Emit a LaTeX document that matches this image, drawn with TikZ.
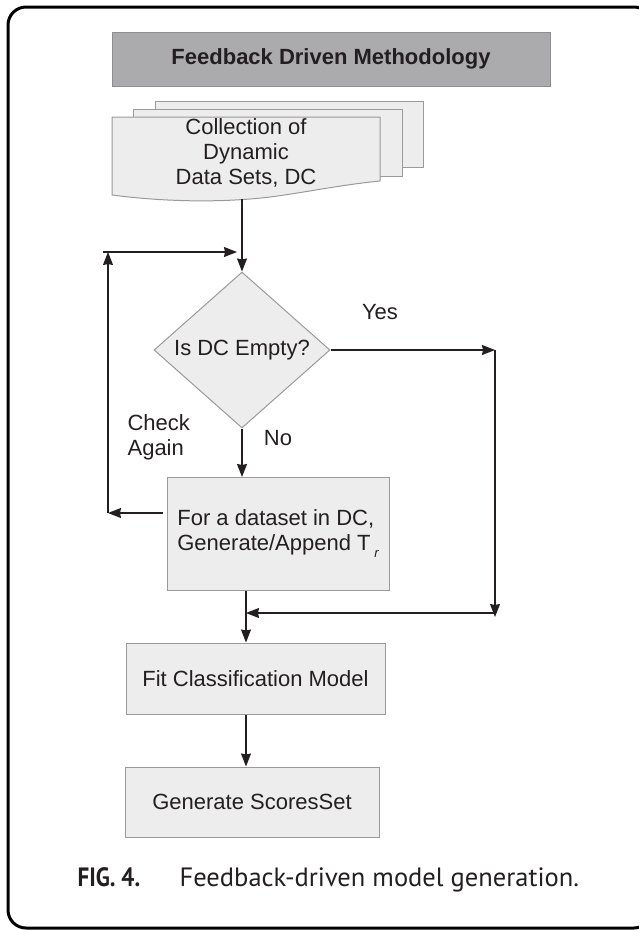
\documentclass[tikz,border=0pt]{standalone}
\usepackage{fontspec}
\setmainfont{Liberation Sans}
\newfontfamily\capfont{PT Sans}
\usetikzlibrary{arrows.meta,shapes.geometric}
\definecolor{ink}{HTML}{231F20}
\definecolor{boxfill}{HTML}{EDEDED}
\definecolor{boxline}{HTML}{9A9A9A}
\definecolor{headfill}{HTML}{ABABAD}
\definecolor{headline}{HTML}{8E8E8E}

\begin{document}
\begin{tikzpicture}[->,>={Stealth[length=13pt,width=10pt,inset=1pt]},x=1pt,y=-1pt,
                line width=1.2pt,draw=ink,text=ink,font=\fontsize{22}{25}\selectfont,
                box/.style={-,shape=rectangle,draw=boxline,fill=boxfill,line width=1pt,inner sep=0pt},
                sheet/.style={-,draw=boxline,fill=boxfill,line width=1pt},
                captext/.style={font=\capfont\fontsize{26.5}{30}\selectfont,anchor=base west,inner sep=0pt}]
                \useasboundingbox (0,0) rectangle (638,930);
                \draw[-,black,line width=3pt,rounded corners=18pt] (8,7) rectangle (652,928);
                \node[box,fill=headfill,draw=headline,minimum width=438,minimum height=54,font=\fontsize{22}{25}\selectfont\bfseries](head)at(331, 59){Feedback Driven Methodology};
                \draw[sheet] (155,101) rectangle (423,167);
                \draw[sheet] (133,109) rectangle (402,176);
                \draw[sheet] (112,117) -- (380,117) -- (380,181) .. controls (330,186) and (290,196) .. (250,199) .. controls (200,203) and (150,200) .. (112,195) -- cycle;
                \node[align=center,inner sep=0pt](dc)at(246, 153){Collection of\\Dynamic\\Data Sets, DC};
                \node[shape=diamond,draw=boxline,fill=boxfill,line width=1pt,inner sep=0pt,minimum width=176,minimum height=156](empty)at(242, 350){Is DC Empty?};
                \node[box,minimum width=222,minimum height=113,align=left](gen)at(278, 534){For a dataset in DC,\\Generate/Append T\,\raisebox{-7pt}{\fontsize{13}{13}\selectfont\itshape r}};
                \node[box,minimum width=259,minimum height=71](fit)at(255.5, 678.5){Fit Classification Model};
                \node[box,minimum width=254,minimum height=70](score)at(252, 802){Generate ScoresSet};
                \node[](yeslabel)at(380, 312){Yes};
                \node[](nolabel)at(278, 438){No};
                \node[align=left,anchor=west,inner sep=0pt](againlabel)at(127, 437){Check\\Again};
                \coordinate (dcfoot) at (242, 199);
                \coordinate (yes) at (495, 350);
                \coordinate (join) at (495, 613);
                \coordinate (mid) at (246, 613);
                \coordinate (back) at (108, 513);
                \coordinate (top) at (108, 252);
                \path[] (dcfoot) edge (empty)
                (empty) edge (empty.south |- gen.north)
                (empty.east) edge (yes)
                (yes) edge ([yshift=-4pt]join)
                (join) edge (mid)
                (gen.south -| mid) edge (fit.north -| mid)
                (fit.south -| mid) edge (score.north -| mid)
                ([xshift=-4pt]gen.west |- back) edge (back)
                (back) edge (top)
                ([xshift=-5pt]top) edge[shorten >=5pt] (empty.north |- top);
                \node[captext](fignum)at(77, 886){\bfseries\addfontfeature{FakeStretch=0.87}FIG. 4.};
                \node[captext](caption)at(179, 886){Feedback-driven model generation.};
            \end{tikzpicture}
\end{document}
